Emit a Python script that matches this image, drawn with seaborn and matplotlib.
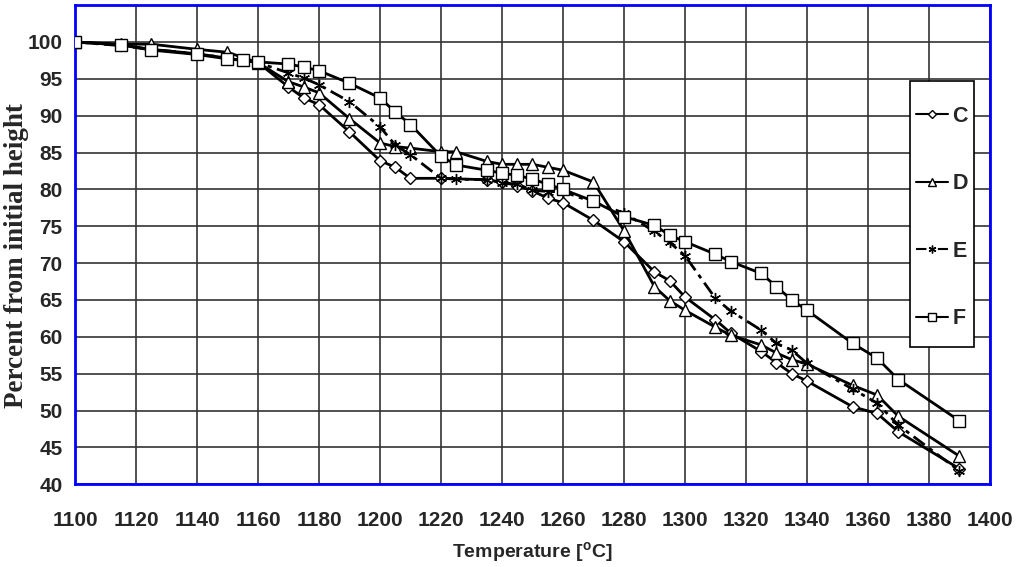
import numpy as np
import pandas as pd
import matplotlib
matplotlib.use('Agg')
import matplotlib.pyplot as plt
from matplotlib.patches import Rectangle
import seaborn as sns

# 数据：温度 / 相对初始高度百分比
c_temp = [1100, 1115, 1125, 1140, 1150, 1160, 1170, 1175, 1180, 1190, 1200, 1205, 1210,
          1220, 1235, 1240, 1245, 1250, 1255, 1260, 1270, 1280, 1290, 1295, 1300, 1310,
          1315, 1325, 1330, 1335, 1340, 1355, 1363, 1370, 1390]
c_pct = [100, 99.6, 99.0, 98.4, 97.8, 97.2, 93.9, 92.4, 91.5, 87.8, 83.9, 83.0, 81.5,
         81.5, 81.3, 81.0, 80.5, 79.8, 78.8, 78.2, 75.8, 72.9, 68.8, 67.6, 65.4, 62.3,
         60.5, 58.0, 56.5, 55.0, 54.0, 50.5, 49.6, 47.1, 42.1]

d_temp = [1100, 1115, 1125, 1140, 1150, 1160, 1170, 1175, 1180, 1190, 1200, 1205, 1210,
          1220, 1225, 1235, 1240, 1245, 1250, 1255, 1260, 1270, 1280, 1290, 1295, 1300,
          1310, 1315, 1325, 1330, 1335, 1340, 1355, 1363, 1370, 1390]
d_pct = [100, 99.7, 99.7, 99.0, 98.6, 97.2, 94.6, 93.9, 93.1, 89.6, 86.3, 85.8, 85.6,
         85.1, 85.1, 83.8, 83.4, 83.4, 83.4, 83.0, 82.6, 81.0, 74.4, 66.8, 64.9, 63.6,
         61.3, 60.2, 58.9, 57.8, 56.9, 56.3, 53.4, 52.1, 49.2, 43.8]

e_temp = [1100, 1115, 1125, 1140, 1150, 1160, 1170, 1175, 1180, 1190, 1200, 1205, 1210,
          1220, 1225, 1235, 1240, 1245, 1250, 1255, 1260, 1280, 1290, 1295, 1300, 1310,
          1315, 1325, 1330, 1335, 1340, 1355, 1363, 1370, 1390]
e_pct = [100, 99.5, 99.0, 98.4, 97.8, 97.2, 95.8, 95.1, 94.2, 91.9, 88.5, 86.0, 84.7,
         81.5, 81.4, 81.3, 80.9, 80.7, 79.9, 79.7, 79.7, 76.8, 74.3, 72.8, 71.0, 65.2,
         63.5, 60.9, 59.1, 58.2, 56.4, 52.9, 51.0, 48.0, 41.8]

f_temp = [1100, 1115, 1125, 1140, 1150, 1155, 1160, 1170, 1175, 1180, 1190, 1200, 1205,
          1210, 1220, 1225, 1235, 1240, 1245, 1250, 1255, 1260, 1270, 1280, 1290, 1295,
          1300, 1310, 1315, 1325, 1330, 1335, 1340, 1355, 1363, 1370, 1390]
f_pct = [100, 99.6, 98.9, 98.3, 97.7, 97.5, 97.3, 97.0, 96.6, 96.1, 94.4, 92.4, 90.5,
         88.8, 84.5, 83.3, 82.6, 82.2, 81.9, 81.4, 80.7, 80.0, 78.4, 76.3, 75.1, 73.8,
         72.9, 71.2, 70.2, 68.6, 66.8, 65.0, 63.6, 59.1, 57.1, 54.2, 48.6]

series = ['C', 'D', 'E', 'F']
x_ticks = list(range(1100, 1401, 20))
y_ticks = list(range(40, 106, 5))

df = pd.concat([
    pd.DataFrame({'temp': c_temp, 'pct': c_pct, 'name': 'C'}),
    pd.DataFrame({'temp': d_temp, 'pct': d_pct, 'name': 'D'}),
    pd.DataFrame({'temp': e_temp, 'pct': e_pct, 'name': 'E'}),
    pd.DataFrame({'temp': f_temp, 'pct': f_pct, 'name': 'F'}),
])

sns.set_style('white')
plt.rcParams['font.family'] = ['Liberation Sans', 'DejaVu Sans']
plt.rcParams['mathtext.fontset'] = 'custom'
plt.rcParams['mathtext.bf'] = 'Liberation Sans:bold'
plt.rcParams['mathtext.rm'] = 'Liberation Sans:bold'

fig = plt.figure(figsize=(10.19, 5.67), dpi=100)
ax = fig.add_axes([0.0736, 0.146, 0.8979, 0.845])

markers = {'C': 'D', 'D': '^', 'E': (6, 2, 0), 'F': 's'}
msizes = {'C': 6, 'D': 8, 'E': 8, 'F': 8}
handles = []
for name in series:
    sub = df[df['name'] == name]
    sns.lineplot(data=sub, x='temp', y='pct', ax=ax, sort=False, color='black',
                 linewidth=2, marker=markers[name], markersize=msizes[name],
                 markerfacecolor='white', markeredgecolor='black',
                 markeredgewidth=1.0, zorder=3)
    line = ax.lines[-1]
    if name == 'E':
        line.set_dashes((5, 2, 1.5, 2))
    handles.append(line)

ax.set_xlim(1100, 1400)
ax.set_ylim(40, 105)
ax.set_xticks(x_ticks)
ax.set_yticks(y_ticks)
ax.set_yticklabels([str(v) if v <= 100 else '' for v in y_ticks])
ax.grid(True, color='#333333', linewidth=1.2)
ax.set_axisbelow(True)
for sp in ax.spines.values():
    sp.set_color('blue')
    sp.set_linewidth(2)
    sp.set_visible(True)
ax.tick_params(axis='both', direction='out', color='blue', width=2, length=8,
               labelsize=15)
ax.tick_params(axis='y', pad=1)
ax.tick_params(axis='x', pad=11)
for lab in ax.get_xticklabels() + ax.get_yticklabels():
    lab.set_fontweight('bold')

ax.set_xlabel(r'Temperature [$^\mathbf{o}$C]', fontsize=14, fontweight='bold', labelpad=8)
ax.set_ylabel('Percent from initial height', fontsize=19.5, fontweight='bold',
              family=['Liberation Serif', 'DejaVu Serif'])
ax.yaxis.set_label_coords(-0.05, 0.478)

# 图例框
ax.add_patch(Rectangle((0.9126, 0.286), 0.0699, 0.555, transform=ax.transAxes,
                       facecolor='white', edgecolor='black', linewidth=1.2,
                       zorder=4, clip_on=False))
leg = ax.legend(handles, series, loc='center', bbox_to_anchor=(0.9475, 0.557),
                frameon=False, markerscale=0.7, handlelength=1.5,
                labelspacing=2.16, borderpad=0, borderaxespad=0, handletextpad=0.2,
                prop={'weight': 'bold', 'size': 15.5})
leg.set_zorder(5)
for h in leg.legend_handles:
    h.set_linewidth(1.5)

fig.savefig('out.png', dpi=100, facecolor='white')
